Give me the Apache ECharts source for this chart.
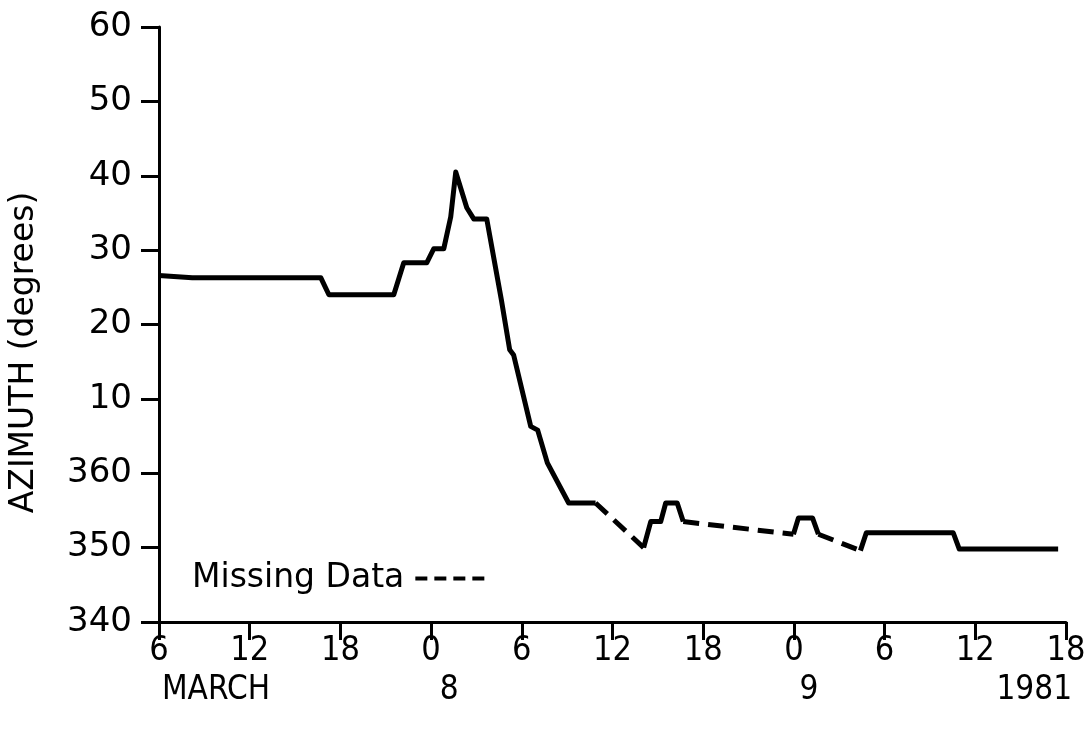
<!DOCTYPE html>
<html>
<head>
<meta charset="utf-8">
<title>Azimuth, March 1981</title>
<script src="https://cdn.jsdelivr.net/npm/echarts@6/dist/echarts.min.js"></script>
<style>
  html, body { margin: 0; padding: 0; background: #fff; }
  #chart { width: 1089px; height: 732px; }
</style>
</head>
<body>
<div id="chart"></div>
<script>
// hours counted from 7 March 1981 00:00, azimuth in degrees
var solidHours = [6, 8.2, 16.7, 17.24, 21.53, 22.19, 23.71, 24.18, 24.84, 25.3, 25.63, 26.36, 26.82, 27.68,
  28.65, 29.2, 29.46, 30.59, 31.05, 31.69, 33.1, 34.88, null,
  38.06, 38.53, 39.19, 39.52, 40.28, 40.68, null,
  47.97, 48.3, 49.23, 49.62, null,
  52.4, 52.79, 58.54, 58.94, 65.48]
var solidAzimuth = [26.6, 26.3, 26.3, 24.0, 24.0, 28.3, 28.3, 30.2, 30.2, 34.5, 40.5, 35.7, 34.2, 34.2,
  23.3, 16.6, 15.9, 6.3, 5.8, 1.4, 356, 356, null,
  350, 353.5, 353.5, 356, 356, 353.5, null,
  351.8, 354, 354, 351.8, null,
  349.6, 352, 352, 349.8, 349.8]

// gaps in the record, drawn dashed
var missingHours = [34.88, 38.06, null, 40.68, 47.97, null, 49.62, 52.4]
var missingAzimuth = [356, 350, null, 353.5, 351.8, null, 351.8, 349.6]

var yTicks = [340, 350, 360, 10, 20, 30, 40, 50, 60]
var dateHours = [9.77, 25.2, 49.0, 63.9]
var dateLabels = ['MARCH', '8', '9', '1981']

// azimuth wraps through north: 0..60 are plotted above 360
function unwrap (az) {
  return az < 180 ? az + 360 : az
}

function pairs (hours, az) {
  return hours.map(function (h, i) {
    return h === null ? [null, null] : [h, unwrap(az[i])]
  })
}

var black = '#000'
var roundFont = "'DejaVu Sans', sans-serif"
var narrowFont = "'Liberation Sans Narrow', 'DejaVu Sans Condensed', sans-serif"

var chart = echarts.init(document.getElementById('chart'), null, { renderer: 'canvas' })

var option = {
  backgroundColor: '#fff',
  animation: false,
  grid: {
    left: 158,
    right: 23,
    top: 27,
    bottom: 110,
    containLabel: false
  },
  legend: {
    data: ['Missing Data'],
    left: 192,
    top: 562,
    padding: 0,
    align: 'right',
    itemWidth: 76,
    itemHeight: 14,
    itemStyle: { opacity: 0 },
    lineStyle: { color: black, width: 4, type: [12, 7] },
    textStyle: {
      color: black,
      fontFamily: roundFont,
      fontSize: 33,
      padding: [0, 6, 0, 0]
    }
  },
  xAxis: [
    {
      type: 'value',
      min: 6,
      max: 66,
      interval: 6,
      splitLine: { show: false },
      axisLine: { onZero: false, lineStyle: { color: black, width: 3 } },
      axisTick: { length: 18, lineStyle: { color: black, width: 3 } },
      axisLabel: {
        color: black,
        fontFamily: narrowFont,
        fontSize: 34,
        margin: 12,
        formatter: function (v) {
          return String(v % 24)
        }
      }
    },
    {
      type: 'value',
      min: 6,
      max: 66,
      position: 'bottom',
      splitLine: { show: false },
      axisLine: { show: false },
      axisTick: { show: false },
      axisLabel: {
        color: black,
        fontFamily: narrowFont,
        fontSize: 33,
        margin: 52,
        customValues: dateHours,
        formatter: function (v) {
          var i = dateHours.indexOf(v)
          return i < 0 ? '' : dateLabels[i]
        }
      }
    }
  ],
  yAxis: {
    type: 'value',
    min: 340,
    max: 420,
    interval: 10,
    name: 'AZIMUTH (degrees)',
    nameLocation: 'middle',
    nameGap: 118,
    nameRotate: 90,
    nameTextStyle: {
      color: black,
      fontFamily: roundFont,
      fontSize: 33,
      padding: [0, 56, 0, 0]
    },
    splitLine: { show: false },
    axisLine: { lineStyle: { color: black, width: 3 } },
    axisTick: { length: 18, lineStyle: { color: black, width: 3 } },
    axisLabel: {
      color: black,
      fontFamily: roundFont,
      fontSize: 34,
      margin: 27,
      formatter: function (v) {
        var shown = v > 360 ? v - 360 : v
        return yTicks.indexOf(shown) >= 0 ? String(shown) : ''
      }
    }
  },
  series: [
    {
      name: 'Azimuth',
      type: 'line',
      data: pairs(solidHours, solidAzimuth),
      symbol: 'none',
      connectNulls: false,
      lineStyle: { color: black, width: 5, join: 'round' }
    },
    {
      name: 'Missing Data',
      type: 'line',
      data: pairs(missingHours, missingAzimuth),
      symbol: 'none',
      connectNulls: false,
      itemStyle: { color: black },
      lineStyle: { color: black, width: 5, type: [16, 9] }
    }
  ]
}

chart.setOption(option)
</script>
</body>
</html>
